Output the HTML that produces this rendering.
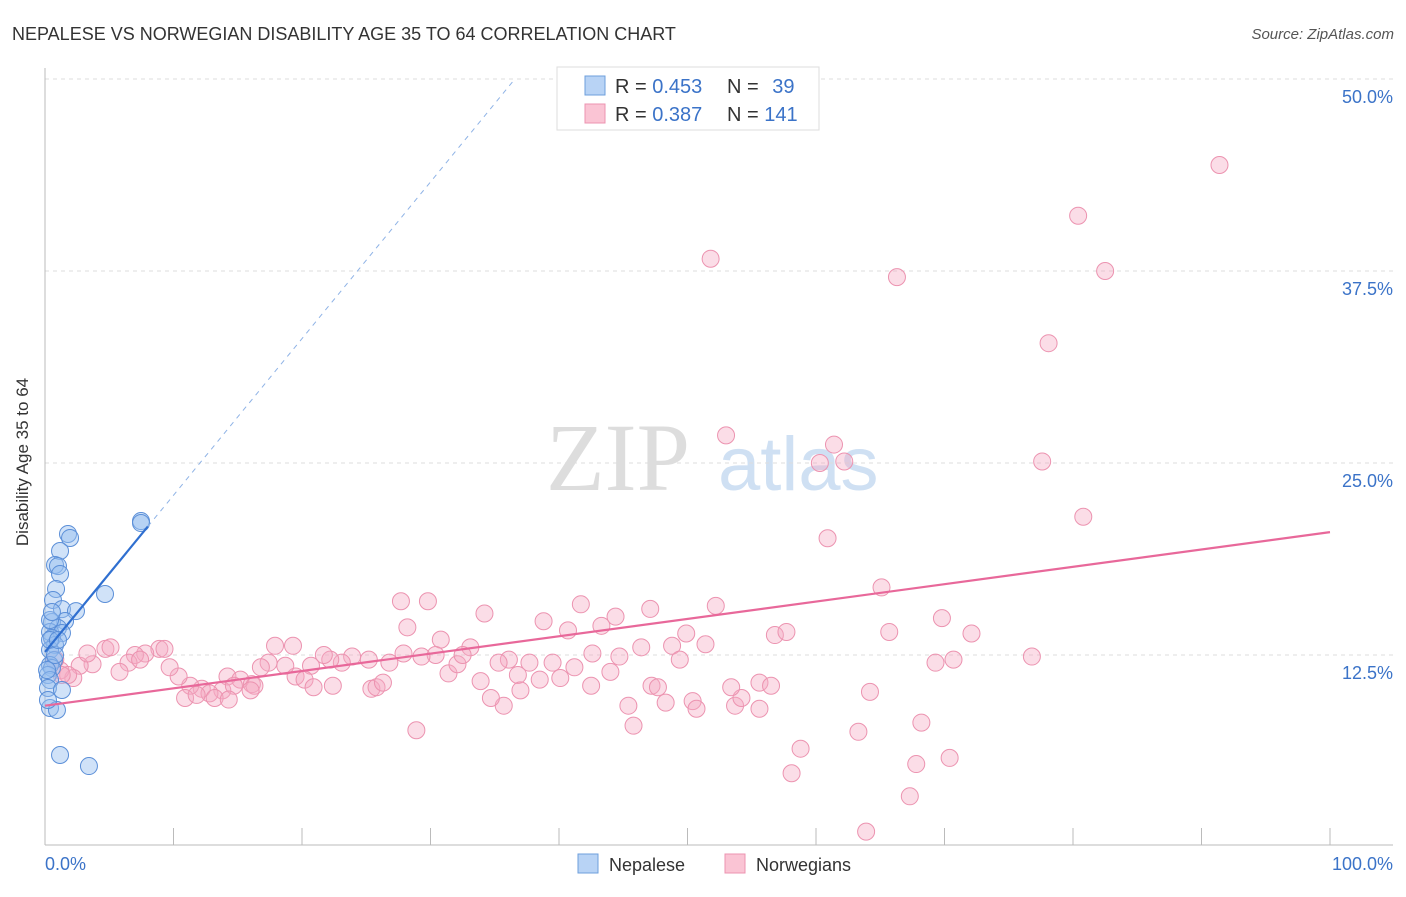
<!DOCTYPE html>
<html><head><meta charset="utf-8"><style>
body{margin:0;background:#fff;font-family:"Liberation Sans",sans-serif}
</style></head><body>
<svg width="1406" height="892" xmlns="http://www.w3.org/2000/svg" style="font-family:'Liberation Sans',sans-serif">
<text x="12" y="40" font-size="18" fill="#333">NEPALESE VS NORWEGIAN DISABILITY AGE 35 TO 64 CORRELATION CHART</text>
<text x="1394" y="39" font-size="15" fill="#555" font-style="italic" text-anchor="end">Source: ZipAtlas.com</text>
<g>
<text x="690" y="490" font-size="96" fill="#ddd" font-family="Liberation Serif" text-anchor="end">ZIP</text>
<text x="718" y="490" font-size="76" fill="#cfe0f3">atlas</text>
</g>
<g id="grid"></g>
<g id="axes"></g>
<g id="pts"></g>
<g id="trend"></g>
<text x="21" y="455" font-size="17" fill="#333" text-anchor="middle" transform="rotate(-90 28 455)">Disability Age 35 to 64</text>
<text x="45" y="870" font-size="18" fill="#3b73c8">0.0%</text>
<text x="1393" y="870" font-size="18" fill="#3b73c8" text-anchor="end">100.0%</text>
<g>
<rect x="557" y="67" width="262" height="63" fill="#fff" stroke="#ddd"/>
<rect x="585" y="76" width="20" height="19" fill="#b8d3f5" stroke="#6e9fdc"/>
<rect x="585" y="104" width="20" height="19" fill="#fac4d4" stroke="#ec93b0"/>
<text x="615" y="93" font-size="20" fill="#333">R = <tspan fill="#3b73c8">0.453</tspan></text>
<text x="727" y="93" font-size="20" fill="#333">N = <tspan fill="#3b73c8" dx="8">39</tspan></text>
<text x="615" y="121" font-size="20" fill="#333">R = <tspan fill="#3b73c8">0.387</tspan></text>
<text x="727" y="121" font-size="20" fill="#333">N = <tspan fill="#3b73c8">141</tspan></text>
</g>
<g>
<rect x="578" y="854" width="20" height="19" fill="#b8d3f5" stroke="#6e9fdc"/>
<text x="609" y="871" font-size="18" fill="#333">Nepalese</text>
<rect x="725" y="854" width="20" height="19" fill="#fac4d4" stroke="#ec93b0"/>
<text x="756" y="871" font-size="18" fill="#333">Norwegians</text>
</g>
</svg>
<script>
const yTicks=[12.5,25,37.5,50];
const yTickLabels=["12.5%","25.0%","37.5%","50.0%"];
const xTicks=[0,10,20,30,40,50,60,70,80,90,100];
const nepX=[7.47,7.47,1.79,1.95,1.17,0.78,1.01,1.17,0.86,4.67,0.62,1.32,2.41,1.56,0.54,1.01,0.39,1.32,0.54,0.78,0.39,0.70,0.39,0.54,0.23,0.39,0.23,1.32,0.39,0.93,1.17,3.42,0.39,0.78,0.23,0.39,1.01,0.54,0.16];
const nepY=[21.22,21.09,20.38,20.12,19.27,18.36,18.29,17.77,16.80,16.47,16.08,15.49,15.36,14.71,14.65,14.26,14.00,13.93,13.61,13.15,12.83,12.17,11.85,11.65,11.20,10.87,10.35,10.22,9.05,8.92,5.99,5.27,13.48,12.5,9.57,14.78,13.48,15.30,11.52];
const norX=[91.4,80.4,82.5,51.8,66.3,78.1,53.0,61.4,60.3,62.2,77.6,80.8,60.9,65.1,52.2,41.7,47.1,34.2,27.7,29.8,38.8,44.4,43.3,40.7,28.2,49.9,51.4,48.8,46.4,56.8,57.7,65.7,69.8,72.1,76.8,70.7,69.3,30.8,33.1,42.6,44.7,39.5,41.2,37.7,36.1,35.3,49.4,44.0,40.1,38.5,36.8,33.9,31.4,32.1,32.5,30.4,29.3,27.9,26.8,25.2,23.9,23.1,22.2,21.7,20.7,19.5,20.2,18.7,17.4,16.8,17.9,19.3,14.2,13.8,15.2,16.1,16.3,14.7,16.0,12.2,11.3,10.4,9.7,8.9,9.3,7.8,7.0,6.5,7.4,5.8,4.7,5.1,3.7,2.7,3.3,2.2,1.2,1.8,0.8,1.3,12.8,13.2,14.3,10.9,11.8,20.9,22.4,25.4,25.8,26.3,37.0,35.7,34.7,42.5,47.2,47.7,45.4,48.3,50.4,50.7,53.7,54.2,53.4,55.6,56.5,55.6,64.2,58.8,58.1,63.3,68.2,67.8,70.4,67.3,63.9,28.9,45.8];
const norY=[44.4,41.1,37.5,38.3,37.1,32.8,26.8,26.2,25.0,25.1,25.1,21.5,20.1,16.9,15.7,15.8,15.5,15.2,16.0,16.0,14.7,15.0,14.4,14.1,14.3,13.9,13.2,13.1,13.0,13.8,14.0,14.0,14.9,13.9,12.4,12.2,12.0,13.5,13.0,12.6,12.4,12.0,11.7,12.0,12.2,12.0,12.2,11.4,11.0,10.9,11.2,10.8,11.3,11.9,12.5,12.5,12.4,12.6,12.0,12.2,12.4,12.0,12.2,12.5,11.8,11.1,10.9,11.8,12.0,11.7,13.1,13.1,11.1,10.2,10.9,10.6,10.5,10.5,10.2,10.3,10.5,11.1,11.7,12.9,12.9,12.6,12.5,12.0,12.2,11.4,12.9,13.0,11.9,11.8,12.6,11.0,11.5,11.2,12.2,11.2,10.0,9.7,9.6,9.7,9.9,10.4,10.5,10.3,10.4,10.7,10.2,9.2,9.7,10.5,10.5,10.4,9.2,9.4,9.5,9.0,9.2,9.7,10.4,10.7,10.5,9.0,10.1,6.4,4.8,7.5,8.1,5.4,5.8,3.3,1.0,7.6,7.9];
const nepTrend=[12.7,1.02];
const norTrend=[9.2,0.113];
const X=v=>45+v*12.85, Y=v=>847-v*15.36;
const NS="http://www.w3.org/2000/svg";
function mk(tag,attrs,parent){const e=document.createElementNS(NS,tag);for(const k in attrs)e.setAttribute(k,attrs[k]);parent.appendChild(e);return e;}
const grid=document.getElementById('grid'),axes=document.getElementById('axes'),pts=document.getElementById('pts'),trend=document.getElementById('trend');
yTicks.forEach((t,i)=>{
 const l=mk('line',{x1:45,x2:1393,y1:Y(t),y2:Y(t),stroke:'#ddd','stroke-dasharray':'4,4'},grid);
 
 
 const tx=mk('text',{x:1393,y:Y(t)+24,'font-size':18,fill:'#3b73c8','text-anchor':'end'},grid);
 tx.textContent=yTickLabels[i];
 
 
});
mk('line',{x1:45,x2:45,y1:68,y2:845,stroke:'#bbb'},axes);
mk('line',{x1:45,x2:1393,y1:845,y2:845,stroke:'#bbb'},axes);
xTicks.forEach(t=>{
 const l=mk('line',{x1:X(t),x2:X(t),y1:828,y2:845,stroke:'#bbb'},axes);
 
 
});
norX.forEach((x,i)=>{
 const c=mk('circle',{cx:X(x),cy:Y(norY[i]),r:8.5,fill:'rgba(245,170,195,0.4)',stroke:'#ec93b0','stroke-width':1},pts);
 
 
});
nepX.forEach((x,i)=>{
 const c=mk('circle',{cx:X(x),cy:Y(nepY[i]),r:8.5,fill:'rgba(150,190,240,0.45)',stroke:'#5b8fd8','stroke-width':1},pts);
 
 
});
const xe=(49.8-nepTrend[0])/nepTrend[1];
let l=mk('line',{x1:X(8),y1:Y(nepTrend[0]+8*nepTrend[1]),x2:X(xe),y2:Y(49.8),stroke:'#8fb3e6','stroke-dasharray':'5,5','stroke-width':1},trend);


l=mk('line',{x1:X(0),y1:Y(nepTrend[0]),x2:X(8),y2:Y(nepTrend[0]+8*nepTrend[1]),stroke:'#2f6fd0','stroke-width':2.2},trend);


l=mk('line',{x1:X(0),y1:Y(norTrend[0]),x2:X(100),y2:Y(norTrend[0]+100*norTrend[1]),stroke:'#e8689a','stroke-width':2.2},trend);


</script>
</body></html>
